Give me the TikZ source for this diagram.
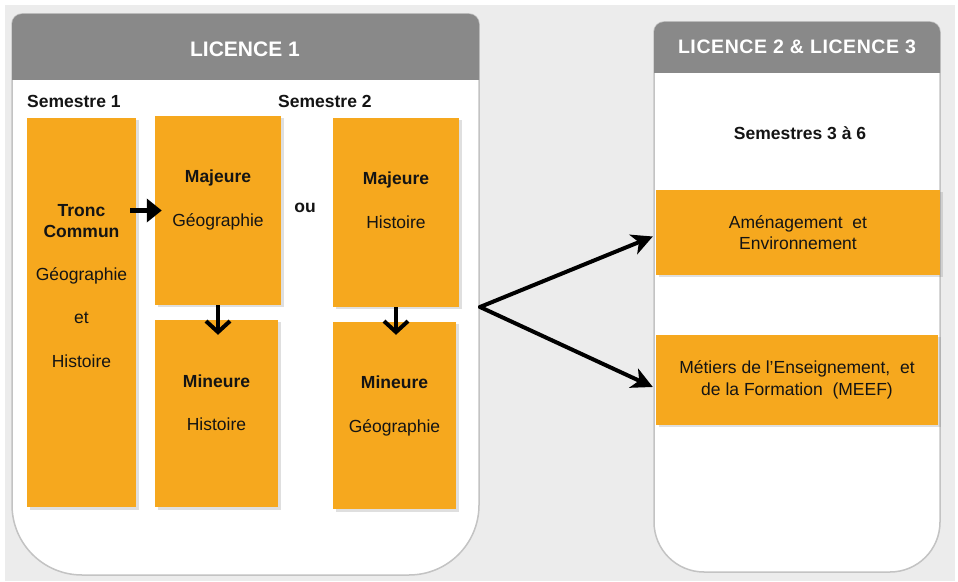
\documentclass[tikz,border=0pt]{standalone}
\usepackage{fontspec}
\setmainfont{Liberation Sans}
\definecolor{licorange}{RGB}{246, 168, 30}
\definecolor{headgray}{RGB}{137, 137, 137}
\definecolor{backgray}{RGB}{236, 236, 236}
\definecolor{rimgray}{RGB}{195, 195, 195}
\definecolor{inkblack}{RGB}{20, 20, 20}
\usetikzlibrary{shapes, arrows.meta, positioning, calc, shadows}

\tikzset{
  panel/.style={fill=white, draw=rimgray, line width=1.5pt},
  panelhead/.style={fill=headgray},
  headtext/.style={text=white, font=\bfseries\fontsize{21}{25}\selectfont, anchor=base},
  bodyfont/.style={font=\fontsize{17.5}{21.5}\selectfont, text=inkblack},
  boldtext/.style={bodyfont, font=\bfseries\fontsize{17.5}{21.5}\selectfont, anchor=base},
  plaintext/.style={bodyfont, anchor=base},
  coursebox/.style={fill=licorange, inner sep=0pt, align=center, bodyfont,
    drop shadow={opacity=0.25, shadow xshift=2.5pt, shadow yshift=-2.5pt}},
  flow/.style={draw=black, line width=4pt, -{Stealth[length=21pt, width=21pt, inset=6pt]}},
  push/.style={draw=black, line width=5.5pt, -{Triangle[length=15pt, width=23pt]}},
  down/.style={draw=black, line width=4pt, -{Straight Barb[length=11pt, width=24pt]}}
}

\begin{document}
\begin{tikzpicture}[x=1pt, y=1pt]
  \useasboundingbox (0,0) rectangle (958,581);
  \fill[backgray] (5,0) rectangle (955,576);

  % Licence 1 panel
  \path[panel] (12,557) -- (12,76) arc[start angle=180, end angle=270, radius=70]
    -- (409,6) arc[start angle=270, end angle=360, radius=70]
    -- (479,557) arc[start angle=0, end angle=90, radius=10]
    -- (22,567) arc[start angle=90, end angle=180, radius=10] -- cycle;
  \path[panelhead] (12,501) -- (12,557) arc[start angle=180, end angle=90, radius=10]
    -- (469,567) arc[start angle=90, end angle=0, radius=10] -- (479,501) -- cycle;
  \node[headtext] (l1title) at (245,524) {LICENCE 1};

  % Licence 2 & 3 panel
  \path[panel] (654,549) -- (654,59) arc[start angle=180, end angle=270, radius=50]
    -- (890,9) arc[start angle=270, end angle=360, radius=50]
    -- (940,549) arc[start angle=0, end angle=90, radius=10]
    -- (664,559) arc[start angle=90, end angle=180, radius=10] -- cycle;
  \path[panelhead] (654,508) -- (654,549) arc[start angle=180, end angle=90, radius=10]
    -- (930,559) arc[start angle=90, end angle=0, radius=10] -- (940,508) -- cycle;
  \node[headtext, font=\bfseries\fontsize{19.5}{24}\selectfont\addfontfeature{LetterSpace=3}] (l23title) at (797,527) {LICENCE 2 \& LICENCE 3};

  % semestres
  \node[boldtext, anchor=base west, inner sep=0pt] (sem1) at (27,473) {Semestre 1};
  \node[boldtext, anchor=base west, inner sep=0pt] (sem2) at (278,473) {Semestre 2};
  \node[boldtext] (sem36) at (800,441) {Semestres 3 à 6};

  % boites de cours
  \node[coursebox, minimum width=109pt, minimum height=389pt] (tronc) at (81.5,268.5) {};
  \node[coursebox, minimum width=126pt, minimum height=189pt] (majgeo) at (218,370.5) {};
  \node[coursebox, minimum width=123pt, minimum height=187pt] (minhis) at (216.5,167.5) {};
  \node[coursebox, minimum width=126pt, minimum height=189pt] (majhis) at (396,368.5) {};
  \node[coursebox, minimum width=123pt, minimum height=187pt] (mingeo) at (394.5,165.5) {};
  \node[coursebox, minimum width=284pt, minimum height=85pt] (amenag) at (798,348.5)
    {Aménagement\ \ et\\Environnement};
  \node[coursebox, minimum width=282pt, minimum height=90pt] (meef) at (797,201)
    {Métiers de l’Enseignement,\ \ et\\de la Formation\ \ (MEEF)};

  % textes des boites
  \node[boldtext] (tronc1) at (81.5,364) {Tronc};
  \node[boldtext] (tronc2) at (81.5,343) {Commun};
  \node[plaintext] (tronc3) at (81.5,300) {Géographie};
  \node[plaintext] (tronc4) at (81.5,257) {et};
  \node[plaintext] (tronc5) at (81.5,213) {Histoire};
  \node[boldtext] (majgeo1) at (218,398) {Majeure};
  \node[plaintext] (majgeo2) at (218,354) {Géographie};
  \node[boldtext] (minhis1) at (216.5,193) {Mineure};
  \node[plaintext] (minhis2) at (216.5,150) {Histoire};
  \node[boldtext] (majhis1) at (396,396) {Majeure};
  \node[plaintext] (majhis2) at (396,352) {Histoire};
  \node[boldtext] (mingeo1) at (394.5,192) {Mineure};
  \node[plaintext] (mingeo2) at (394.5,148) {Géographie};
  \node[boldtext] (ou) at (305,368) {ou};

  % fleches
  \draw[push] ([xshift=-6pt]tronc.east |- majgeo.west) -- ([xshift=7pt]majgeo.west);
  \draw[down] (majgeo.south) -- ([yshift=-15pt]minhis.north -| majgeo.south);
  \draw[down] (majhis.south) -- ([yshift=-13pt]mingeo.north -| majhis.south);
  \coordinate (fork) at (480,274);
  \draw[flow, line cap=round, line join=round] (fork) -- ([xshift=-3pt, yshift=-4pt]amenag.west);
  \draw[flow, line cap=round, line join=round] (fork) -- ([xshift=-3pt, yshift=-7pt]meef.west);
\end{tikzpicture}
\end{document}
